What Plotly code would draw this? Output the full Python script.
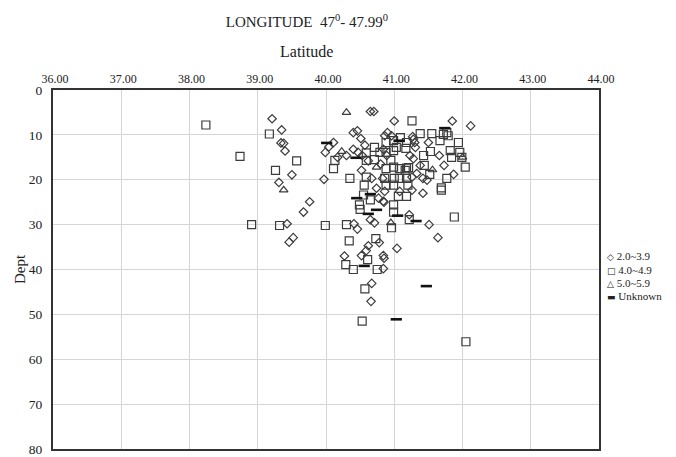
import plotly.graph_objects as go

# Magnitude 2.0~3.9 (diamonds): latitude (deg), depth (km)
d_lat = [39.21, 39.35, 39.34, 39.38, 39.40, 39.50, 39.31, 39.76, 39.67, 39.43, 39.46, 39.52,
         40.04, 40.11, 39.99, 39.97, 40.17, 40.30,
         40.65, 40.70, 41.00, 41.85, 42.12,
         40.40, 40.46, 40.40, 40.51, 40.47, 40.53, 40.57, 40.52, 40.67, 40.74, 40.77, 40.90,
         40.96, 41.27, 41.30, 41.23, 41.28, 41.38, 41.33, 41.48, 41.26, 41.08, 41.26, 41.66,
         41.73, 41.87, 41.42, 41.50, 41.42, 40.85, 40.65, 40.71, 41.22, 40.62, 40.80,
         40.86, 40.84, 40.89, 40.83, 40.86, 40.84, 41.28, 41.31,
         40.41, 40.46, 40.78, 40.62, 40.59, 40.52, 41.04, 40.27, 40.84, 40.85, 40.84, 40.67,
         40.66, 41.51, 41.64]
d_dep = [6.4, 8.9, 11.8, 11.9, 13.6, 18.9, 20.6, 24.9, 27.2, 29.8, 33.9, 32.9,
         12.7, 11.7, 13.9, 19.9, 15.0, 14.6,
         4.8, 4.8, 6.9, 6.9, 8.0,
         9.5, 9.1, 13.2, 10.8, 13.9, 14.6, 12.3, 17.9, 19.7, 21.9, 24.1, 9.5,
         10.2, 10.4, 11.7, 14.6, 15.3, 16.8, 18.6, 20.1, 19.4, 22.6, 22.3, 14.6,
         16.8, 18.8, 23.0, 11.7, 19.7, 25.0, 28.9, 29.6, 27.8, 15.8, 16.5,
         10.2, 13.2, 14.6, 19.7, 22.6, 24.8, 11.0, 12.8,
         29.8, 31.0, 34.0, 34.7, 35.8, 36.9, 35.3, 37.0, 36.9, 37.5, 39.8, 43.1,
         47.1, 30.0, 32.9]

# Magnitude 4.0~4.9 (squares)
s_lat = [38.24, 38.74, 38.91, 39.17, 39.57, 39.26, 39.32, 39.99, 40.13, 40.11, 41.26,
         40.35, 40.59, 40.71, 40.59, 40.71, 40.79, 40.59, 40.56, 40.55, 40.65, 40.49, 40.50,
         40.88, 40.99, 41.09, 41.18, 41.17, 41.38, 41.55, 41.72, 41.77, 41.67, 41.79,
         40.88, 40.99, 40.95, 40.88, 40.99, 40.86, 41.00, 41.08, 41.18, 41.16, 41.21, 40.88,
         40.99, 41.20, 41.06, 41.18, 41.03, 41.08, 41.18,
         41.43, 41.44, 41.52, 41.53, 41.82, 41.94, 41.96, 42.04, 41.84, 41.99, 41.69, 41.77,
         41.69,
         40.99, 40.99, 41.22, 40.96, 41.88,
         40.30, 40.34, 40.73, 40.29, 40.40, 40.61, 40.75, 40.57, 40.53, 42.05]
s_dep = [7.8, 14.8, 30.0, 9.8, 15.8, 17.9, 30.2, 30.2, 15.7, 17.5, 6.9,
         19.7, 14.0, 12.8, 15.7, 15.5, 13.9, 19.4, 21.2, 23.4, 24.5, 25.6, 26.6,
         11.7, 11.3, 10.6, 11.7, 13.0, 9.7, 9.7, 9.9, 9.5, 11.3, 10.2,
         13.9, 13.5, 15.7, 17.5, 17.2, 19.7, 19.7, 19.7, 19.7, 17.9, 17.3, 21.2,
         21.2, 21.2, 23.7, 23.7, 12.8, 17.5, 17.4,
         14.6, 16.8, 18.8, 13.7, 13.5, 11.7, 13.9, 17.2, 15.0, 15.0, 21.8, 19.7,
         22.3,
         25.6, 27.2, 28.9, 30.7, 28.3,
         30.0, 33.6, 33.1, 38.9, 40.0, 37.8, 40.0, 44.3, 51.5, 56.1]

# Magnitude 5.0~5.9 (triangles)
t_lat = [40.30, 40.23, 39.38, 40.74, 41.56, 42.00, 40.95]
t_dep = [5.0, 13.7, 22.3, 17.2, 17.8, 15.0, 29.6]

# Unknown magnitude (dashes)
u_lat = [40.01, 41.74, 40.44, 40.45, 40.65, 41.07, 40.56, 41.47, 41.32, 41.05, 40.62, 40.74, 41.03]
u_dep = [11.8, 8.5, 15.1, 24.1, 23.2, 11.3, 39.2, 43.7, 29.2, 28.0, 27.6, 26.7, 51.1]

legend_labels = ["2.0~3.9", "4.0~4.9", "5.0~5.9", "Unknown"]
legend_glyphs = ["\u25c7", "\u25a1", "\u25b3", "\u25ac"]

ink = "#3c3c3c"
fig = go.Figure()
fig.add_trace(go.Scatter(x=d_lat, y=d_dep, mode="markers", name=legend_labels[0],
                         marker=dict(symbol="diamond-open", size=6.5, color=ink, line=dict(width=1.2, color=ink))))
fig.add_trace(go.Scatter(x=s_lat, y=s_dep, mode="markers", name=legend_labels[1],
                         marker=dict(symbol="square-open", size=8, color=ink, line=dict(width=1.2, color=ink))))
fig.add_trace(go.Scatter(x=t_lat, y=t_dep, mode="markers", name=legend_labels[2],
                         marker=dict(symbol="triangle-up-open", size=7.5, color=ink, line=dict(width=1.2, color=ink))))
fig.add_trace(go.Scatter(x=u_lat, y=u_dep, mode="markers", name=legend_labels[3],
                         marker=dict(symbol="line-ew", size=8, color="#111", line=dict(width=2.6, color="#111"))))

font_family = "Liberation Serif, Times New Roman, serif"

# compact legend drawn as text (matches the tight spacing of the original)
legend_y = [0.537, 0.500, 0.463, 0.426]
annotations = []
for g, lab, yy in zip(legend_glyphs, legend_labels, legend_y):
    annotations.append(dict(
        xref="paper", yref="paper", x=1.011, y=yy, xanchor="left", yanchor="middle",
        showarrow=False,
        text=f"<span style='font-family:DejaVu Sans;font-size:9px'>{g}</span> {lab}",
        font=dict(family=font_family, size=11, color="#222")))
annotations.append(dict(xref="paper", yref="paper", x=0.465, y=1.106, xanchor="center",
                        yanchor="middle", showarrow=False, text="Latitude",
                        font=dict(family=font_family, size=16, color="#222")))

# the page body adds an 8px offset, so margins are reduced by 8px on top/left
fig.update_layout(
    width=676, height=457,
    margin=dict(l=45, r=85, t=82, b=16, autoexpand=False),
    paper_bgcolor="white", plot_bgcolor="white",
    font=dict(family=font_family, size=12, color="#222"),
    title=dict(text="LONGITUDE  47<sup>0</sup>- 47.99<sup>0</sup>", x=0.465, xref="paper",
               y=0.969, yref="container", xanchor="center", yanchor="middle",
               font=dict(size=15, color="#222"), automargin=False),
    showlegend=False,
    annotations=annotations,
    xaxis=dict(range=[36, 44], dtick=1, tick0=36, side="top", tickformat=".2f",
               showgrid=True, gridcolor="#d6d6d6", gridwidth=1, zeroline=False,
               showline=True, linecolor="#333", linewidth=2, mirror=True,
               ticks="", ticklabelshift=2, tickfont=dict(size=12), automargin=False),
    yaxis=dict(range=[80, 0], dtick=10, tick0=0, showgrid=True, gridcolor="#d6d6d6", gridwidth=1,
               zeroline=False, showline=True, linecolor="#333", linewidth=2, mirror=True,
               ticks="outside", ticklen=6, tickcolor="rgba(0,0,0,0)",
               tickfont=dict(size=13.5), automargin=False,
               title=dict(text="Dept", font=dict(size=15), standoff=0)),
)
fig.write_html("out.html")
